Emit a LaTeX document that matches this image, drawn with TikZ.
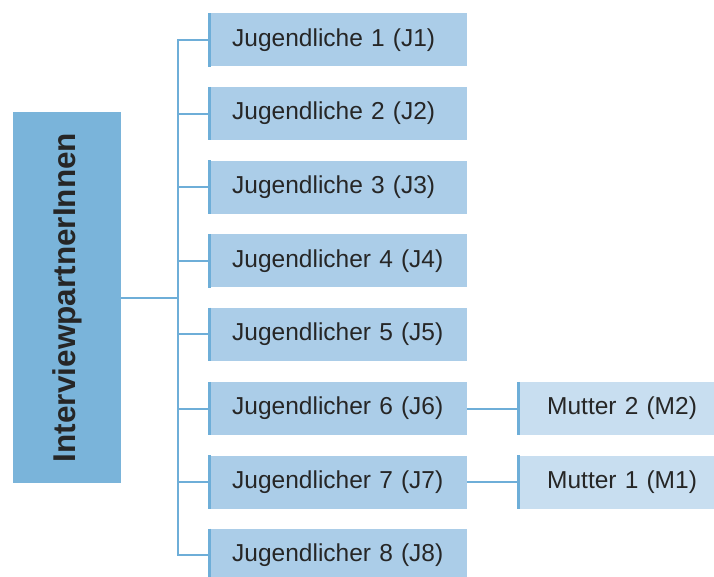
\documentclass[tikz,border=0pt]{standalone}
\usepackage{fontspec}
\setmainfont{Liberation Sans}
\definecolor{rootblue}{HTML}{7AB4DA}
\definecolor{boxblue}{HTML}{ABCDE8}
\definecolor{lightblue}{HTML}{C8DEF0}
\definecolor{lineblue}{HTML}{6EAED8}
\definecolor{txt}{HTML}{262626}
\tikzset{
  jbox/.style={fill=boxblue, draw=none, minimum width=259pt, minimum height=53pt,
    text width=259pt, inner xsep=0pt, align=left, text=txt,
    execute at begin node={\hspace*{24pt}},
    font=\fontsize{24.5}{29}\selectfont, anchor=west},
  mbox/.style={fill=lightblue, draw=none, minimum width=220pt, minimum height=53pt,
    text width=220pt, inner xsep=0pt, align=left, text=txt,
    execute at begin node={\hspace*{30pt}},
    font=\fontsize{24.5}{29}\selectfont, anchor=west},
  rootbox/.style={fill=rootblue, draw=none, minimum width=371pt, minimum height=108pt,
    text=txt, font=\bfseries\fontsize{31.5}{36}\selectfont},
  conn/.style={draw=lineblue, line width=2pt},
  edge/.style={draw=lineblue, line width=2.6pt}
}
\begin{document}
\begin{tikzpicture}[x=1pt,y=-1pt]
\useasboundingbox (0,0) rectangle (714,577);
\clip (0,0) rectangle (714,577);
\node[rootbox, rotate=90] (root) at (67,297.5) {InterviewpartnerInnen};
\coordinate (trunk) at (178,40);
\node[jbox] (J1) at (208,40) {Jugendliche 1 (J1)};
\node[jbox] (J2) at (208,113.6) {Jugendliche 2 (J2)};
\node[jbox] (J3) at (208,187.2) {Jugendliche 3 (J3)};
\node[jbox] (J4) at (208,260.8) {Jugendlicher 4 (J4)};
\node[jbox] (J5) at (208,334.4) {Jugendlicher 5 (J5)};
\node[jbox] (J6) at (208,408.5) {Jugendlicher 6 (J6)};
\node[jbox] (J7) at (208,482) {Jugendlicher 7 (J7)};
\node[jbox] (J8) at (208,555.2) {Jugendlicher 8 (J8)};
\node[mbox] (M2) at (517,408.5) {Mutter 2 (M2)};
\node[mbox] (M1) at (517,482) {Mutter 1 (M1)};
\draw[conn] (J1.west) -- (J1.west -| trunk) -- (J8.west -| trunk) -- (J8.west);
\foreach \n in {J2,J3,J4,J5,J6,J7}{
  \draw[conn] (\n.west) -- (\n.west -| trunk);
}
\draw[conn] (root.south) -- (root.south -| trunk);
\draw[conn] (J6.east) -- (M2.west);
\draw[conn] (J7.east) -- (M1.west);
\foreach \n in {J1,J2,J3,J4,J5,J6,J7,J8,M1,M2}{
  \draw[edge] ([xshift=1.3pt]\n.north west) -- ([xshift=1.3pt]\n.south west);
}
\end{tikzpicture}
\end{document}
